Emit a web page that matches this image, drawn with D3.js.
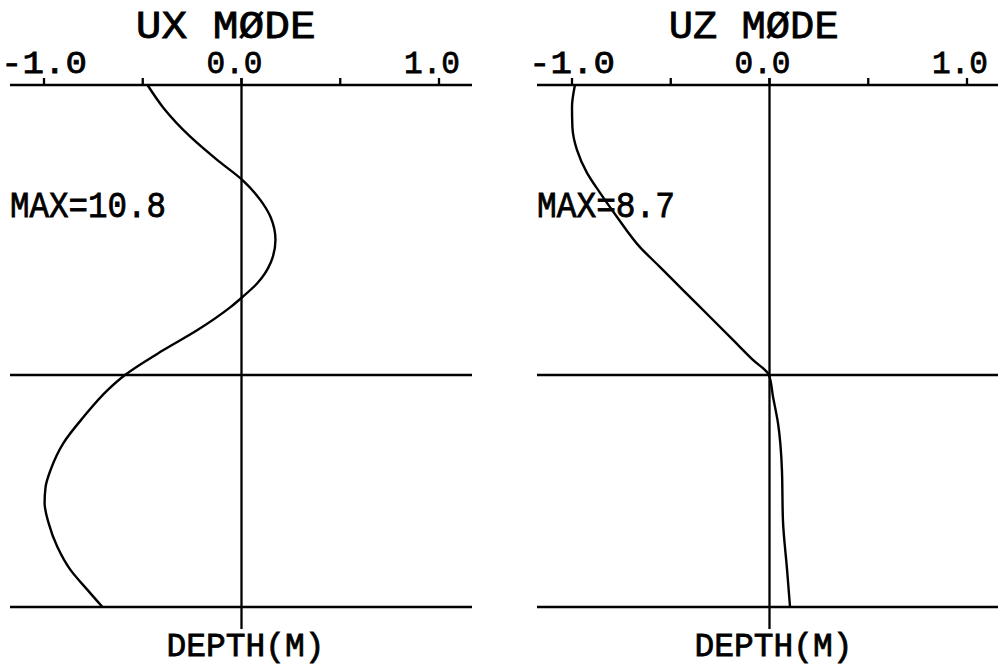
<!DOCTYPE html>
<html>
<head>
<meta charset="utf-8">
<script src="https://cdn.jsdelivr.net/npm/d3@7"></script>
<style>
  html, body { margin: 0; padding: 0; background: #fff; }
  svg { display: block; }
  text { font-family: "Liberation Mono", "DejaVu Sans Mono", monospace; fill: #000; stroke: #000; stroke-width: 0.8px; }
</style>
</head>
<body>
<svg id="chart" width="998" height="666"></svg>
<script>
// Mode shapes vs depth (m), normalised displacement
const depthUX = [0, 0.79, 1.79, 2.59, 3.28, 3.97, 4.55, 5.34, 6.14, 6.83, 7.31, 7.66, 8.45, 9.14, 10.0, 10.52, 11.45, 12.34, 13.28, 13.86, 14.41, 15.10, 15.93, 16.72, 17.41, 18.0];
const ux      = [-0.476, -0.395, -0.258, -0.122, 0.005, 0.096, 0.147, 0.172, 0.147, 0.081, 0.005, -0.056, -0.223, -0.395, -0.59, -0.678, -0.800, -0.901, -0.967, -0.992, -0.997, -0.977, -0.932, -0.866, -0.780, -0.704];

const depthUZ = [0, 0.76, 1.45, 2.24, 3.03, 3.72, 4.55, 5.59, 6.28, 7.07, 8.0, 8.79, 9.48, 10.0, 10.76, 11.66, 13.28, 15.0, 16.72, 18.0];
const uz      = [-0.985, -1.0, -0.998, -0.975, -0.924, -0.858, -0.772, -0.656, -0.554, -0.438, -0.301, -0.185, -0.084, -0.003, 0.018, 0.043, 0.063, 0.068, 0.089, 0.104];

const titles = ["UX MØDE", "UZ MØDE"];
const maxValues = [10.8, 8.7];
const tickValues = [-1.0, -0.5, 0.0, 0.5, 1.0];
const labelValues = [-1.0, 0.0, 1.0];
const labelTexts = ["-1.0", "0.0", "1.0"];
const layerDepths = [0, 10, 18];
const depthLabel = "DEPTH(M)";

const svg = d3.select("#chart");

const y = d3.scaleLinear().domain([0, 18]).range([85, 607]);

const panels = [
  { title: titles[0], max: maxValues[0], depth: depthUX, vals: ux, range: [44, 439], axisEnd: [10, 472], maxX: 10, maxW: 153 },
  { title: titles[1], max: maxValues[1], depth: depthUZ, vals: uz, range: [572, 967], axisEnd: [537, 1000], maxX: 537, maxW: 135 }
];

panels.forEach(p => {
  const x = d3.scaleLinear().domain([-1, 1]).range(p.range);
  const g = svg.append("g");

  // horizontal layer lines (surface, interface, base)
  g.selectAll("line.layer").data(layerDepths).join("line")
    .attr("x1", p.axisEnd[0]).attr("x2", p.axisEnd[1])
    .attr("y1", d => y(d)).attr("y2", d => y(d))
    .attr("stroke", "#000").attr("stroke-width", 2.3);

  // ticks above the top axis
  g.selectAll("line.tick").data(tickValues).join("line")
    .attr("x1", d => x(d)).attr("x2", d => x(d))
    .attr("y1", y(0) - 7).attr("y2", y(0))
    .attr("stroke", "#000").attr("stroke-width", 2.3);

  // zero reference line
  g.append("line")
    .attr("x1", x(0)).attr("x2", x(0))
    .attr("y1", y(0) - 7).attr("y2", y(18) + 22)
    .attr("stroke", "#000").attr("stroke-width", 2.3);

  // tick labels
  g.selectAll("text.tl").data(labelValues).join("text")
    .attr("x", d => x(d) + (d < 0 ? 0 : -7))
    .attr("y", 73)
    .attr("text-anchor", "middle")
    .attr("font-size", 32)
    .attr("textLength", (d, i) => labelTexts[i].length === 4 ? 86 : 56)
    .attr("lengthAdjust", "spacingAndGlyphs")
    .text((d, i) => labelTexts[i]);

  // title
  g.append("text")
    .attr("x", x(-0.08)).attr("y", 38)
    .attr("text-anchor", "middle")
    .attr("font-size", 38)
    .attr("textLength", p.title === titles[0] ? 180 : 170)
    .attr("lengthAdjust", "spacingAndGlyphs")
    .text(p.title);

  // max amplitude note
  g.append("text")
    .attr("x", p.maxX).attr("y", 217)
    .attr("font-size", 36)
    .attr("textLength", p.maxW + 3)
    .attr("lengthAdjust", "spacingAndGlyphs")
    .text("MAX=" + p.max);

  // depth axis label
  g.append("text")
    .attr("x", x(0) + 4).attr("y", 656)
    .attr("text-anchor", "middle")
    .attr("font-size", 33)
    .attr("textLength", 158)
    .attr("lengthAdjust", "spacingAndGlyphs")
    .text(depthLabel);

  // mode shape
  const line = d3.line()
    .x((d, i) => x(p.vals[i]))
    .y(d => y(d))
    .curve(d3.curveMonotoneY);
  g.append("path")
    .datum(p.depth)
    .attr("d", line)
    .attr("fill", "none")
    .attr("stroke", "#000")
    .attr("stroke-width", 2.4);
});
</script>
</body>
</html>
